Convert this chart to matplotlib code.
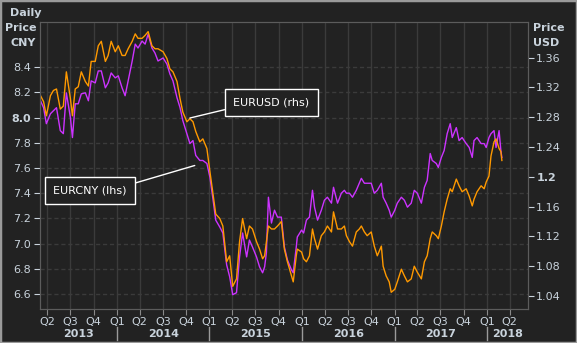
import matplotlib
matplotlib.use("Agg")
import matplotlib.pyplot as plt
import matplotlib.dates as mdates
import matplotlib.transforms as mtransforms
from matplotlib.patches import Rectangle
import pandas as pd

dates = [
    "2013-03-05", "2013-03-17", "2013-03-28", "2013-04-13", "2013-04-25", "2013-05-07",
    "2013-05-22", "2013-06-03", "2013-06-15", "2013-07-01", "2013-07-09", "2013-07-20",
    "2013-08-01", "2013-08-13", "2013-08-29", "2013-09-10", "2013-09-21", "2013-10-07",
    "2013-10-19", "2013-10-31", "2013-11-16", "2013-11-27", "2013-12-09", "2013-12-25",
    "2014-01-06", "2014-01-21", "2014-02-02", "2014-02-14", "2014-03-02", "2014-03-14",
    "2014-03-25", "2014-04-10", "2014-04-22", "2014-05-04", "2014-05-19", "2014-05-31",
    "2014-06-12", "2014-07-02", "2014-07-17", "2014-07-29", "2014-08-10", "2014-08-26",
    "2014-09-07", "2014-09-18", "2014-10-04", "2014-10-16", "2014-10-28", "2014-11-08",
    "2014-11-24", "2014-12-06", "2014-12-22", "2015-01-03", "2015-01-14", "2015-01-26",
    "2015-02-11", "2015-02-23", "2015-03-10", "2015-03-22", "2015-04-03", "2015-04-18",
    "2015-04-30", "2015-05-12", "2015-05-28", "2015-06-08", "2015-06-20", "2015-07-06",
    "2015-07-18", "2015-07-30", "2015-08-07", "2015-08-14", "2015-08-22", "2015-09-03",
    "2015-09-15", "2015-09-27", "2015-10-12", "2015-10-24", "2015-11-05", "2015-11-21",
    "2015-11-28", "2015-12-10", "2015-12-14", "2015-12-31", "2016-01-08", "2016-01-19",
    "2016-01-31", "2016-02-12", "2016-02-20", "2016-03-03", "2016-03-18", "2016-03-30",
    "2016-04-11", "2016-04-27", "2016-05-05", "2016-05-21", "2016-06-05", "2016-06-17",
    "2016-06-25", "2016-07-07", "2016-07-19", "2016-08-03", "2016-08-15", "2016-08-23",
    "2016-09-04", "2016-09-15", "2016-10-01", "2016-10-13", "2016-10-25", "2016-11-10",
    "2016-11-17", "2016-11-29", "2016-12-11", "2016-12-19", "2017-01-02", "2017-01-12",
    "2017-01-28", "2017-02-09", "2017-02-21", "2017-03-08", "2017-03-20", "2017-04-01",
    "2017-04-17", "2017-04-29", "2017-05-10", "2017-05-22", "2017-05-30", "2017-06-15",
    "2017-06-23", "2017-07-05", "2017-07-16", "2017-07-28", "2017-08-09", "2017-08-17",
    "2017-09-02", "2017-09-13", "2017-09-25", "2017-10-11", "2017-10-23", "2017-11-04",
    "2017-11-11", "2017-11-23", "2017-12-09", "2017-12-21", "2017-12-29", "2018-01-09",
    "2018-01-17", "2018-01-29", "2018-02-06", "2018-02-18", "2018-02-25", "2018-03-01",
]

eurcny = [
    8.134, 8.079, 7.952, 8.031, 8.055, 8.079, 7.897, 7.873, 8.197, 8.000, 7.842, 8.110,
    8.110, 8.189, 8.197, 8.134, 8.292, 8.276, 8.371, 8.371, 8.237, 8.276, 8.355, 8.316,
    8.332, 8.237, 8.174, 8.292, 8.450, 8.584, 8.553, 8.608, 8.584, 8.663, 8.553, 8.513,
    8.450, 8.474, 8.426, 8.347, 8.292, 8.158, 8.079, 7.976, 7.873, 7.794, 7.818, 7.700,
    7.660, 7.660, 7.636, 7.526, 7.368, 7.186, 7.131, 7.084, 6.831, 6.736, 6.594, 6.610,
    6.894, 7.084, 6.894, 7.028, 6.973, 6.894, 6.815, 6.768, 6.815, 6.926, 7.368, 7.163,
    7.265, 7.210, 7.210, 6.973, 6.870, 6.791, 6.768, 6.973, 7.052, 7.107, 7.084, 7.186,
    7.210, 7.423, 7.289, 7.186, 7.265, 7.344, 7.368, 7.321, 7.447, 7.321, 7.400, 7.423,
    7.400, 7.400, 7.368, 7.423, 7.479, 7.518, 7.479, 7.479, 7.479, 7.400, 7.423, 7.479,
    7.368, 7.321, 7.265, 7.210, 7.265, 7.321, 7.368, 7.344, 7.289, 7.321, 7.423, 7.400,
    7.321, 7.447, 7.502, 7.715, 7.660, 7.636, 7.605, 7.684, 7.739, 7.873, 7.952, 7.842,
    7.921, 7.818, 7.842, 7.794, 7.763, 7.684, 7.818, 7.842, 7.794, 7.794, 7.763, 7.842,
    7.873, 7.897, 7.763, 7.897, 7.739, 7.684,
]

eurusd = [
    1.309, 1.301, 1.282, 1.309, 1.316, 1.318, 1.291, 1.295, 1.341, 1.305, 1.282, 1.318,
    1.321, 1.341, 1.328, 1.322, 1.355, 1.355, 1.376, 1.382, 1.355, 1.363, 1.382, 1.368,
    1.376, 1.363, 1.363, 1.372, 1.382, 1.392, 1.386, 1.386, 1.390, 1.395, 1.376, 1.372,
    1.372, 1.368, 1.359, 1.345, 1.341, 1.328, 1.305, 1.287, 1.274, 1.278, 1.274, 1.261,
    1.247, 1.251, 1.238, 1.207, 1.180, 1.150, 1.144, 1.134, 1.086, 1.094, 1.053, 1.063,
    1.113, 1.144, 1.117, 1.134, 1.130, 1.113, 1.103, 1.090, 1.094, 1.113, 1.134, 1.130,
    1.130, 1.134, 1.140, 1.103, 1.086, 1.067, 1.059, 1.094, 1.103, 1.099, 1.090, 1.086,
    1.094, 1.130, 1.117, 1.103, 1.121, 1.126, 1.134, 1.126, 1.153, 1.130, 1.130, 1.134,
    1.121, 1.113, 1.107, 1.126, 1.130, 1.134, 1.126, 1.121, 1.126, 1.107, 1.094, 1.107,
    1.080, 1.067, 1.059, 1.045, 1.049, 1.059, 1.076, 1.067, 1.059, 1.063, 1.080, 1.072,
    1.063, 1.086, 1.094, 1.117, 1.126, 1.121, 1.117, 1.134, 1.153, 1.170, 1.184, 1.180,
    1.197, 1.188, 1.180, 1.184, 1.174, 1.161, 1.170, 1.180, 1.188, 1.184, 1.193, 1.201,
    1.228, 1.247, 1.251, 1.238, 1.234, 1.222,
]

cny_ticks = [6.6, 6.8, 7.0, 7.2, 7.4, 7.6, 7.8, 8.0, 8.2, 8.4]
usd_ticks = [1.04, 1.08, 1.12, 1.16, 1.2, 1.24, 1.28, 1.32, 1.36]
years = [2013, 2014, 2015, 2016, 2017, 2018]

bg = "#222222"
txt = "#c9d3dc"
grid_c = "#3b3b3b"
orange = "#ff9900"
purple = "#cc33ff"

x = pd.to_datetime(dates)
xmin, xmax = pd.Timestamp("2013-03-01"), pd.Timestamp("2018-06-12")

fig = plt.figure(figsize=(5.77, 3.43), dpi=100, facecolor=bg)
ax = fig.add_axes([0.0685, 0.099, 0.8465, 0.837], facecolor=bg)
ax2 = ax.twinx()

ax.plot(x, eurcny, color=purple, lw=1.0)
ax2.plot(x, eurusd, color=orange, lw=1.0)

ax.set_xlim(xmin, xmax)
ax.set_ylim(6.48, 8.76)
ax2.set_ylim(1.0225, 1.408)

# quarter ticks
qdates = pd.date_range("2013-04-01", "2018-04-01", freq="QS")
ax.set_xticks(qdates)
ax.set_xticklabels(["Q%d" % ((d.month - 1) // 3 + 1) for d in qdates])
ax.xaxis.grid(True, color=grid_c, lw=1, ls="-")
ax.yaxis.grid(True, color=grid_c, lw=1, ls=(0, (3, 2)))
ax.set_axisbelow(True)

ax.set_yticks(cny_ticks)
ax.set_yticklabels(["%.1f" % v for v in cny_ticks])
ax2.set_yticks(usd_ticks)
ax2.set_yticklabels(["1.2" if v == 1.2 else "%.2f" % v for v in usd_ticks])
for lab in ax.get_yticklabels():
    if lab.get_text() == "8.0":
        lab.set_fontweight("bold")
for lab in ax2.get_yticklabels():
    if lab.get_text() == "1.2":
        lab.set_fontweight("bold")

for a in (ax, ax2):
    a.tick_params(colors=txt, labelsize=8, length=4, width=0.8, pad=2)
    for s in a.spines.values():
        s.set_color("#5c5c5c")
ax.tick_params(axis="x", color="#8a8a8a", pad=2)

# year labels and separators
trans = mtransforms.blended_transform_factory(ax.transData, ax.transAxes)
for yr in years:
    lo = max(pd.Timestamp("%d-01-01" % yr), xmin)
    hi = min(pd.Timestamp("%d-01-01" % (yr + 1)), xmax)
    mid = lo + (hi - lo) / 2
    ax.text(mdates.date2num(mid), -0.086, str(yr), transform=trans, ha="center",
            va="center", color=txt, fontsize=8, fontweight="bold")
    if yr > 2013:
        start = mdates.date2num(pd.Timestamp("%d-01-01" % yr))
        ax.plot([start, start], [-0.062, -0.108], transform=trans, color="#9a9a9a",
                lw=1, clip_on=False)

# axis titles
fig.text(0.018, 0.962, "Daily", color=txt, fontsize=8, fontweight="bold", va="center")
fig.text(0.063, 0.918, "Price", color=txt, fontsize=8, fontweight="bold", va="center", ha="right")
fig.text(0.063, 0.874, "CNY", color=txt, fontsize=8, fontweight="bold", va="center", ha="right")
fig.text(0.924, 0.918, "Price", color=txt, fontsize=8, fontweight="bold", va="center")
fig.text(0.924, 0.874, "USD", color=txt, fontsize=8, fontweight="bold", va="center")

# callouts
box = dict(boxstyle="square,pad=0.75", fc=bg, ec="white", lw=1)
ax2.annotate("EURUSD (rhs)", xy=(pd.Timestamp("2014-10-16"), 1.279),
             xytext=(0.4705, 0.701), textcoords="figure fraction", ha="center", va="center",
             color="white", fontsize=8, bbox=box,
             arrowprops=dict(arrowstyle="-", color="white", lw=1, relpos=(0, 0),
                             shrinkA=0, shrinkB=0))
cny_pt = mdates.date2num(pd.Timestamp("2014-11-04"))
cny_y = ax2.transData.inverted().transform(ax.transData.transform((cny_pt, 7.62)))[1]
ax2.annotate("EURCNY (lhs)", xy=(cny_pt, cny_y),
             xytext=(0.156, 0.4446), textcoords="figure fraction", ha="center", va="center",
             color="white", fontsize=8, bbox=box,
             arrowprops=dict(arrowstyle="-", color="white", lw=1, relpos=(1, 1),
                             shrinkA=0, shrinkB=0))

fig.patches.append(Rectangle((0, 0), 1, 1, transform=fig.transFigure, fill=False,
                             ec="#9a9a9a", lw=2.5))

fig.savefig("out.png", dpi=100, facecolor=bg)
